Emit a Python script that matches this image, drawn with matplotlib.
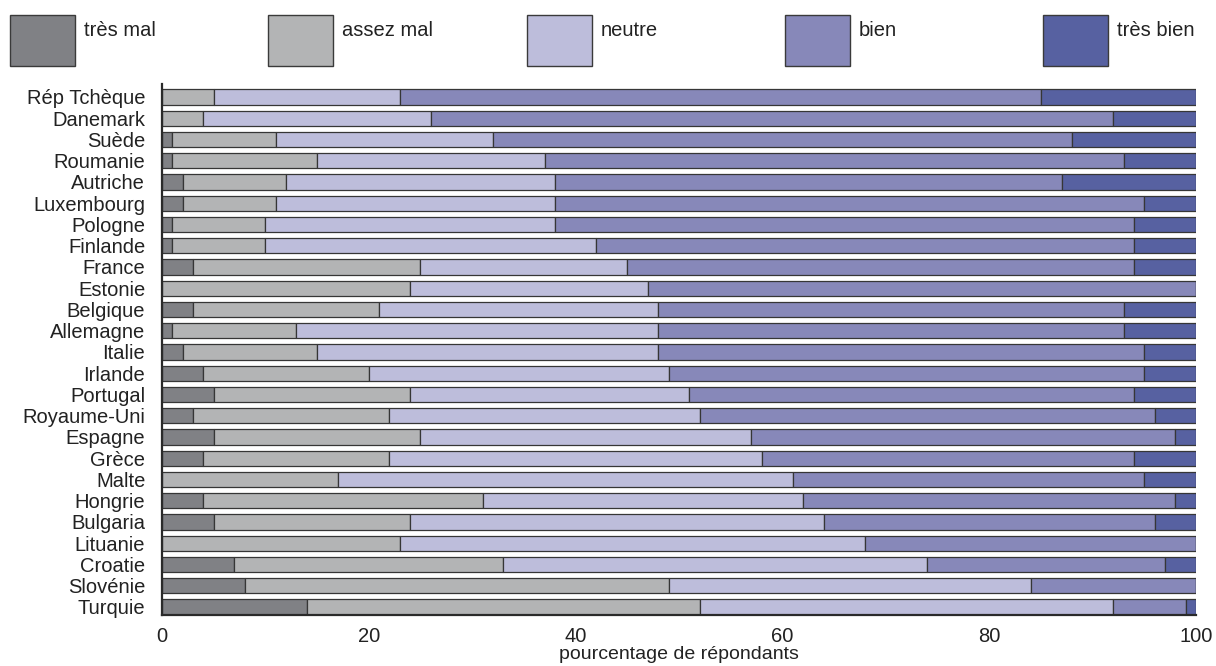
"""
Stacked horizontal bars: pourcentage de répondants par pays (très mal -> très bien)
"""
import matplotlib.pyplot as plt
from matplotlib.patches import Rectangle
import numpy as np

plt.rcParams['font.family'] = ['Liberation Sans', 'DejaVu Sans']

# Data (top to bottom as in the chart)
countries = ['Rép Tchèque', 'Danemark', 'Suède', 'Roumanie', 'Autriche', 'Luxembourg',
             'Pologne', 'Finlande', 'France', 'Estonie', 'Belgique', 'Allemagne',
             'Italie', 'Irlande', 'Portugal', 'Royaume-Uni', 'Espagne', 'Grèce',
             'Malte', 'Hongrie', 'Bulgaria', 'Lituanie', 'Croatie', 'Slovénie', 'Turquie']

tres_mal  = [0, 0, 1, 1, 2, 2, 1, 1, 3, 0, 3, 1, 2, 4, 5, 3, 5, 4, 0, 4, 5, 0, 7, 8, 14]
assez_mal = [5, 4, 10, 14, 10, 9, 9, 9, 22, 24, 18, 12, 13, 16, 19, 19, 20, 18, 17, 27, 19, 23, 26, 41, 38]
neutre    = [18, 22, 21, 22, 26, 27, 28, 32, 20, 23, 27, 35, 33, 29, 27, 30, 32, 36, 44, 31, 40, 45, 41, 35, 40]
bien      = [62, 66, 56, 56, 49, 57, 56, 52, 49, 53, 45, 45, 47, 46, 43, 44, 41, 36, 34, 36, 32, 32, 23, 16, 7]
tres_bien = [15, 8, 12, 7, 13, 5, 6, 6, 6, 0, 7, 7, 5, 5, 6, 4, 2, 6, 5, 2, 4, 0, 3, 0, 1]

categories = ['très mal', 'assez mal', 'neutre', 'bien', 'très bien']
colors = ['#808185', '#b3b4b5', '#bdbddb', '#8788b9', '#5761a1']

series = [tres_mal, assez_mal, neutre, bien, tres_bien]

fig = plt.figure(figsize=(12.16, 6.66), dpi=100)
ax = fig.add_axes([0.1332, 0.0766, 0.8504, 0.7979])

y = np.arange(len(countries))[::-1]
left = np.zeros(len(countries))
for vals, col, name in zip(series, colors, categories):
    vals = np.array(vals, dtype=float)
    ax.barh(y, vals, left=left, height=0.72, color=col, edgecolor='#363636',
            linewidth=0.9, label=name)
    left += vals

ax.set_xlim(0, 100)
ax.set_ylim(-0.38, len(countries) - 1 + 0.63)
ax.set_yticks(y)
ax.set_yticklabels(countries, fontsize=14.5)
ax.set_xticks(range(0, 101, 20))
ax.tick_params(axis='x', length=0, pad=9, labelsize=14.5, colors='#222222')
ax.tick_params(axis='y', length=0, pad=12, labelsize=14.5, colors='#222222')
ax.set_xlabel('pourcentage de répondants', fontsize=14, labelpad=0, color='#222222')

for s in ['top', 'right']:
    ax.spines[s].set_visible(False)
for s in ['left', 'bottom']:
    ax.spines[s].set_linewidth(1.6)
    ax.spines[s].set_color('#2a2a2a')

# Legend across the top
W, H = 1216, 666
for i, (name, col) in enumerate(zip(categories, colors)):
    x0 = 10 + i * 258.3
    rect = Rectangle((x0 / W, 1 - 66 / H), 65 / W, 51 / H, transform=fig.transFigure,
                     facecolor=col, edgecolor='#3a3a3a', linewidth=1.0)
    fig.patches.append(rect)
    fig.text((x0 + 74) / W, 1 - 31 / H, name, fontsize=14.5, va='center', ha='left',
             color='#222222')

plt.savefig('out.png', dpi=100)
